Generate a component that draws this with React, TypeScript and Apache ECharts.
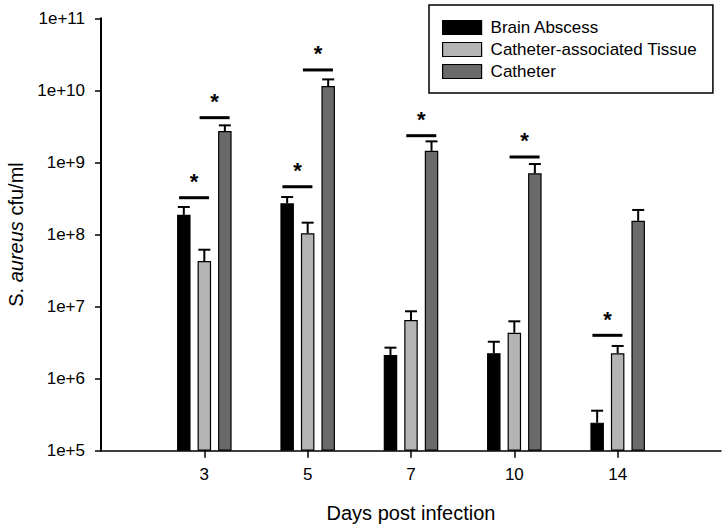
import React, { useEffect, useRef } from 'react';
import * as echarts from 'echarts';

const days = ['3', '5', '7', '10', '14'];
const seriesNames = ['Brain Abscess', 'Catheter-associated Tissue', 'Catheter'];
const seriesColors = ['#000000', '#b4b4b4', '#6a6a6a'];

const brainAbscess = [1.88e8, 2.71e8, 2.13e6, 2.25e6, 2.45e5];
const brainAbscessUpper = [2.41e8, 3.31e8, 2.69e6, 3.25e6, 3.59e5];
const tissue = [4.29e7, 1.04e8, 6.51e6, 4.34e6, 2.25e6];
const tissueUpper = [6.15e7, 1.46e8, 8.6e6, 6.24e6, 2.84e6];
const catheter = [2.73e9, 1.15e10, 1.45e9, 7.06e8, 1.55e8];
const catheterUpper = [3.27e9, 1.42e10, 1.96e9, 9.5e8, 2.19e8];

// significance brackets: day index, pair (0 = bars 1-2, 1 = bars 2-3), bracket level
const sigDay = [0, 0, 1, 1, 2, 3, 4];
const sigPair = [0, 1, 0, 1, 1, 1, 0];
const sigLevel = [3.24e8, 4.18e9, 4.6e8, 1.92e10, 2.35e9, 1.19e9, 3.99e6];

const yMin = 1e5;
const yMax = 1e11;

const FONT = '"Liberation Sans", Arial, sans-serif';
const BAR_W = 13.5;
const BAR_GAP = 0.52;
const STEP = BAR_W * (1 + BAR_GAP);
const CAP = 12;

export default function App() {
  const ref = useRef<HTMLDivElement>(null);
  useEffect(() => {
    if (!ref.current) return;
    const chart = echarts.init(ref.current, undefined, { renderer: 'svg' });
    const axisCats = ['', ...days, ''];
    const values = [brainAbscess, tissue, catheter];
    const uppers = [brainAbscessUpper, tissueUpper, catheterUpper];

    const barSeries = seriesNames.map((name, s) => ({
      name,
      type: 'bar',
      barWidth: BAR_W,
      barGap: `${BAR_GAP * 100}%`,
      data: values[s].map((v, i) => [i + 1, v]),
      itemStyle: { color: seriesColors[s], borderColor: '#000', borderWidth: 1.2 },
      clip: true,
      z: 2,
    }));

    const errSeries = seriesNames.map((name, s) => ({
      name: name + ' err',
      type: 'custom',
      z: 3,
      data: values[s].map((v, i) => [i + 1, v, uppers[s][i]]),
      renderItem: (params: any, api: any) => {
        const idx = api.value(0);
        const top = api.coord([idx, api.value(1)]);
        const up = api.coord([idx, api.value(2)]);
        const x = top[0] + (s - 1) * STEP;
        return {
          type: 'group',
          children: [
            { type: 'line', shape: { x1: x, y1: top[1], x2: x, y2: up[1] }, style: { stroke: '#000', lineWidth: 2 } },
            { type: 'line', shape: { x1: x - CAP / 2, y1: up[1], x2: x + CAP / 2, y2: up[1] }, style: { stroke: '#000', lineWidth: 2 } },
          ],
        };
      },
    }));

    const sigSeries = {
      name: 'sig',
      type: 'custom',
      z: 4,
      data: sigDay.map((d, i) => [d + 1, sigPair[i], sigLevel[i]]),
      renderItem: (params: any, api: any) => {
        const idx = api.value(0);
        const pair = api.value(1);
        const p = api.coord([idx, api.value(2)]);
        const cx = p[0] + (pair - 0.5) * STEP;
        return {
          type: 'group',
          children: [
            { type: 'line', shape: { x1: cx - 15, y1: p[1], x2: cx + 15, y2: p[1] }, style: { stroke: '#000', lineWidth: 3 } },
            {
              type: 'text',
              style: {
                text: '*', x: cx, y: p[1] - 16, fill: '#000',
                font: `bold 22px ${FONT}`, align: 'center', verticalAlign: 'middle',
              },
            },
          ],
        };
      },
    };

    chart.setOption({
      animation: false,
      textStyle: { fontFamily: FONT, color: '#000' },
      grid: { left: 101, right: 5, top: 18.3, bottom: 77.3, containLabel: false, outerBoundsMode: 'none' },
      legend: {
        data: seriesNames,
        orient: 'vertical',
        left: 429,
        top: 5,
        itemWidth: 39,
        itemHeight: 14,
        itemGap: 5,
        icon: 'rect',
        selectedMode: false,
        borderColor: '#000',
        borderWidth: 1.5,
        padding: [14, 16, 13, 13],
        textStyle: { fontSize: 17, color: '#000', fontFamily: FONT, padding: [0, 0, 0, 4] },
        itemStyle: { borderColor: '#000', borderWidth: 1.2 },
      },
      xAxis: {
        type: 'category',
        data: axisCats,
        boundaryGap: false,
        axisLine: { lineStyle: { color: '#000', width: 1.5 } },
        axisTick: { length: 7, interval: (i: number, v: string) => v !== '', lineStyle: { color: '#000', width: 1.5 } },
        axisLabel: { interval: 0, fontSize: 17, color: '#000', margin: 15, fontFamily: FONT },
        name: 'Days post infection',
        nameLocation: 'middle',
        nameGap: 52,
        nameTextStyle: { fontSize: 20, color: '#000', fontFamily: FONT },
        splitLine: { show: false },
      },
      yAxis: {
        type: 'log',
        logBase: 10,
        min: yMin,
        max: yMax,
        startValue: yMin,
        splitNumber: 6,
        axisLine: { show: true, lineStyle: { color: '#000', width: 2 } },
        axisTick: { show: true, length: 6, lineStyle: { color: '#000', width: 1.5 } },
        axisLabel: {
          fontSize: 17, color: '#000', margin: 16, fontFamily: FONT,
          formatter: (v: number) => '1e+' + Math.round(Math.log10(v)),
        },
        minorTick: { show: false },
        splitLine: { show: false },
        name: '{a|S. }{b|aureus}{a| cfu/ml}',
        nameLocation: 'middle',
        nameRotate: 90,
        nameGap: 72,
        nameTextStyle: {
          fontSize: 20, color: '#000', fontFamily: FONT,
          rich: {
            a: { fontSize: 20, color: '#000', fontFamily: FONT },
            b: { fontSize: 20, color: '#000', fontFamily: FONT, fontStyle: 'italic' },
          },
        },
      },
      series: [...barSeries, ...errSeries, sigSeries],
    });
    return () => chart.dispose();
  }, []);
  return <div ref={ref} style={{ position: 'absolute', left: 0, top: 0, width: 726, height: 528 }} />;
}
